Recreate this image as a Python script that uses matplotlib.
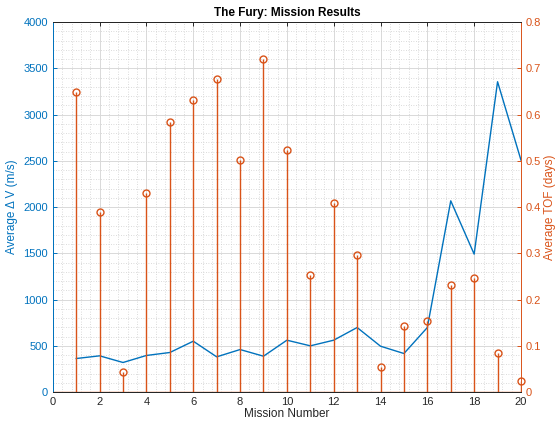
import matplotlib
matplotlib.use("Agg")
import matplotlib.pyplot as plt
from matplotlib.ticker import AutoMinorLocator

plt.rcParams["font.family"] = ["Liberation Sans", "DejaVu Sans"]

BLUE = "#0072BD"
ORANGE = "#D95319"

missions = list(range(1, 21))
avg_dv = [364, 393, 321, 397, 429, 551, 382, 461, 389, 562,
          501, 562, 699, 497, 418, 699, 2068, 1492, 3355, 2508]
avg_tof = [0.648, 0.389, 0.044, 0.430, 0.584, 0.631, 0.676, 0.502, 0.721, 0.523,
           0.254, 0.409, 0.296, 0.055, 0.143, 0.154, 0.231, 0.247, 0.084, 0.024]

fig = plt.figure(figsize=(5.56, 4.24), dpi=100)
ax = fig.add_axes([0.095, 0.075, 0.842, 0.873])
ax2 = ax.twinx()

ax.plot(missions, avg_dv, color=BLUE, lw=1.0, zorder=3)
ax.set_xlim(0, 20)
ax.set_ylim(0, 4000)
ax.set_xticks(range(0, 21, 2))
ax.set_yticks(range(0, 4001, 500))
ax.xaxis.set_minor_locator(AutoMinorLocator(5))
ax.yaxis.set_minor_locator(AutoMinorLocator(5))
ax.grid(True, which="major", color="#d9d9d9", lw=0.7)
ax.grid(True, which="minor", color="#cfcfcf", lw=0.6, ls=(0, (1, 2)))
ax.set_axisbelow(True)

ax2.vlines(missions, 0, avg_tof, color=ORANGE, lw=1.0)
ax2.plot(missions, avg_tof, "o", mfc="none", mec=ORANGE, ms=5, mew=1.0, clip_on=False)
ax2.axhline(0, color=ORANGE, lw=1.0)
ax2.set_ylim(0, 0.8)
ax2.set_yticks([i / 10 for i in range(9)])
ax2.set_yticklabels(["0"] + [f"{i / 10:.1f}" for i in range(1, 9)])

for a in (ax, ax2):
    a.tick_params(direction="in", length=3, width=0.7, labelsize=8, which="major")
    a.tick_params(which="minor", length=0)
ax.tick_params(axis="x", top=True, colors="#262626")
ax.tick_params(axis="y", colors=BLUE)
ax2.tick_params(axis="y", colors=ORANGE)

ax.spines["left"].set_color(BLUE)
ax2.spines["left"].set_color(BLUE)
ax2.spines["right"].set_color(ORANGE)
ax.spines["right"].set_visible(False)
for a in (ax, ax2):
    a.spines["top"].set_color("#262626")
    a.spines["bottom"].set_color("#262626")
    for s in a.spines.values():
        s.set_linewidth(0.7)

ax.set_xlabel("Mission Number", fontsize=8.5, color="#262626", labelpad=1)
ax.set_ylabel("Average \u0394 V (m/s)", fontsize=8.5, color=BLUE, labelpad=4)
ax2.set_ylabel("Average TOF (days)", fontsize=8.5, color=ORANGE, labelpad=2)
ax.set_title("The Fury: Mission Results", fontsize=8.5, fontweight="bold", pad=4)

fig.savefig("out.png", dpi=100)
